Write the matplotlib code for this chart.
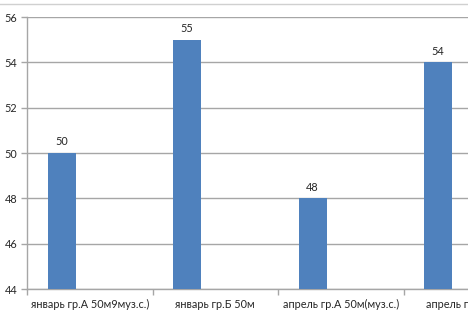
import matplotlib
matplotlib.use("Agg")
import matplotlib.pyplot as plt
from matplotlib.lines import Line2D

categories = ["январь гр.А 50м9муз.с.)", "январь гр.Б 50м",
              "апрель гр.А 50м(муз.с.)", "апрель гр.Б 50м"]
values = [50, 55, 48, 54]
yticks = [44, 46, 48, 50, 52, 54, 56]

plt.rcParams['font.family'] = ['Lato', 'DejaVu Sans']

fig = plt.figure(figsize=(4.68, 3.17), dpi=100)
ax = fig.add_axes([27/468, 28/317, (529-27)/468, 272/317])

bar_color = "#4F81BD"
grid_color = "#A6A6A6"
x = list(range(len(categories)))
offset = -0.224
width = 0.224
bars = ax.bar([i + offset for i in x], values, width=width, color=bar_color, zorder=3)
for b, v in zip(bars, values):
    ax.text(b.get_x() + b.get_width()/2, v + 0.25, str(v), ha='center', va='bottom',
            fontsize=7.8, color='#262626')

ax.set_ylim(44, 56)
ax.set_yticks(yticks)
ax.set_xlim(-0.5, len(categories) - 0.5)
ax.yaxis.grid(True, color=grid_color, linewidth=1.0, zorder=0)
ax.set_axisbelow(True)

ax.set_xticks(x)
ax.set_xticklabels(categories, fontsize=7.8, color='#262626')
ax.tick_params(axis='x', length=0, pad=7)
ax.set_xticks([i - 0.5 for i in range(len(categories) + 1)], minor=True)
ax.tick_params(axis='x', which='minor', length=4, color=grid_color, width=1)
ax.tick_params(axis='y', length=4, color=grid_color, width=1, labelsize=7.8,
               labelcolor='#262626', pad=3)

for s in ['top', 'right']:
    ax.spines[s].set_visible(False)
for s in ['left', 'bottom']:
    ax.spines[s].set_color(grid_color)
    ax.spines[s].set_linewidth(1.0)

fig.add_artist(Line2D([0, 1], [1 - 4/317, 1 - 4/317], color='#D0D0D0', linewidth=1.0,
                      transform=fig.transFigure))

fig.savefig("out.png", dpi=100)
